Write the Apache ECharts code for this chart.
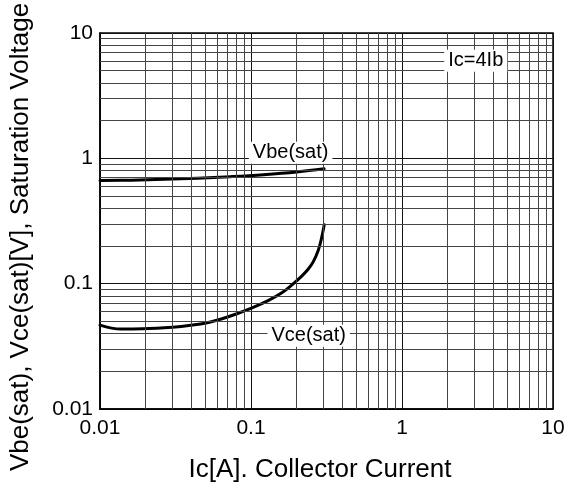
<!DOCTYPE html>
<html>
<head>
<meta charset="utf-8">
<script src="https://cdn.jsdelivr.net/npm/echarts@6/dist/echarts.min.js"></script>
<style>
html,body{margin:0;padding:0;background:#fff;}
#c{width:568px;height:488px;}
</style>
</head>
<body>
<div id="c"></div>
<script>
// ---- data ----
const vbeX = [0.01, 0.0161, 0.0267, 0.0442, 0.0731, 0.121, 0.201, 0.305];
const vbeY = [0.665, 0.670, 0.680, 0.695, 0.714, 0.740, 0.778, 0.825];

const vceX = [0.01, 0.0138, 0.0192, 0.0302, 0.0399, 0.0514, 0.0644, 0.0789, 0.1016, 0.1307, 0.16, 0.186, 0.2168, 0.2397, 0.2586, 0.279, 0.293, 0.3055];
const vceY = [0.0467, 0.0434, 0.0436, 0.0449, 0.0465, 0.0488, 0.0525, 0.0570, 0.0640, 0.0735, 0.0845, 0.0975, 0.1150, 0.1310, 0.150, 0.185, 0.230, 0.2955];

const xTicks = [0.01, 0.1, 1, 10];
const yTicks = [0.01, 0.1, 1, 10];
const minorMult = [2, 3, 4, 5, 6, 7, 8, 9];

const labelVbe = { text: 'Vbe(sat)', at: [0.183, 1.11] };
const labelVce = { text: 'Vce(sat)', at: [0.241, 0.0384] };
const labelIc  = { text: 'Ic=4Ib',   at: [3.08, 6.0] };

const xTitle = 'Ic[A]. Collector Current';
const yTitle = 'Vbe(sat), Vce(sat)[V], Saturation Voltage';

// ---- build ----
const FONT = '"Liberation Sans", Arial, sans-serif';
const minorX = [], minorY = [];
for (let i = 0; i < xTicks.length - 1; i++) minorMult.forEach(m => minorX.push({ xAxis: +(xTicks[i] * m).toPrecision(6) }));
for (let i = 0; i < yTicks.length - 1; i++) minorMult.forEach(m => minorY.push({ yAxis: +(yTicks[i] * m).toPrecision(6) }));

const zip = (a, b) => a.map((v, i) => [v, b[i]]);
const annot = (l) => ({
  symbol: 'circle', symbolSize: 0, silent: true,
  label: { show: true, position: 'inside', formatter: '{b}', color: '#000', fontSize: 20,
           fontFamily: FONT, backgroundColor: '#fff', padding: [1, 4] },
  data: [{ name: l.text, coord: l.at }]
});
const lineColor = '#444';

const chart = echarts.init(document.getElementById('c'), null, { renderer: 'canvas' });
chart.setOption({
  backgroundColor: '#fff',
  animation: false,
  grid: { left: 97, right: 15, top: 33, bottom: 77, show: true, borderColor: '#000', borderWidth: 1.5 },
  xAxis: {
    type: 'log', logBase: 10, min: xTicks[0], max: xTicks[xTicks.length - 1],
    name: xTitle, nameLocation: 'middle', nameGap: 48,
    nameTextStyle: { fontSize: 26, fontFamily: FONT, color: '#000', padding: [0, 13, 0, 0] },
    axisLine: { show: true, lineStyle: { color: '#000', width: 1.5 } },
    axisTick: { show: false },
    axisLabel: { fontSize: 21, fontFamily: FONT, color: '#000', margin: 9,
                 formatter: v => String(v) },
    splitLine: { show: true, lineStyle: { color: '#111', width: 1 } },
    minorSplitLine: { show: false }
  },
  yAxis: {
    type: 'log', logBase: 10, min: yTicks[0], max: yTicks[yTicks.length - 1],
    name: yTitle, nameLocation: 'middle', nameGap: 66, nameRotate: 90,
    nameTextStyle: { fontSize: 26, fontFamily: FONT, color: '#000', padding: [0, 32, 0, 0] },
    axisLine: { show: true, lineStyle: { color: '#000', width: 1.5 } },
    axisTick: { show: false },
    axisLabel: { fontSize: 21, fontFamily: FONT, color: '#000', margin: 7,
                 formatter: v => String(v) },
    splitLine: { show: true, lineStyle: { color: '#111', width: 1 } }
  },
  series: [
    {
      type: 'line', data: [], z: 1, silent: true,
      markLine: {
        silent: true, symbol: 'none', animation: false,
        label: { show: false },
        lineStyle: { color: lineColor, width: 1, type: 'solid' },
        data: minorX.concat(minorY)
      },
      markPoint: annot(labelIc)
    },
    {
      name: 'Vbe(sat)', type: 'line', data: zip(vbeX, vbeY), z: 3,
      showSymbol: false, smooth: 0.4,
      lineStyle: { color: '#000', width: 3, cap: 'round', join: 'round' },
      markPoint: annot(labelVbe)
    },
    {
      name: 'Vce(sat)', type: 'line', data: zip(vceX, vceY), z: 3,
      showSymbol: false, smooth: 0.4,
      lineStyle: { color: '#000', width: 3, cap: 'round', join: 'round' },
      markPoint: annot(labelVce)
    }
  ]
});
</script>
</body>
</html>
